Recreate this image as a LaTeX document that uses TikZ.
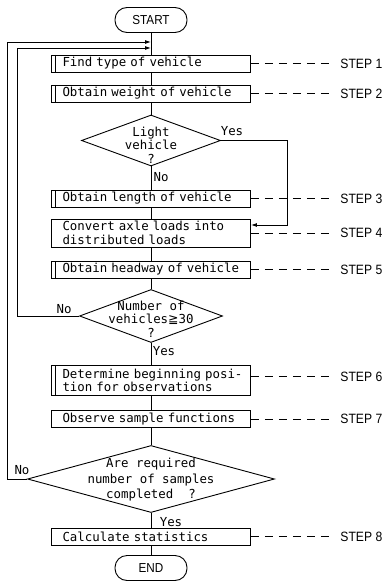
\documentclass[tikz,border=0pt]{standalone}
\usepackage{fontspec}
\setmainfont{Liberation Sans}
\newfontfamily\boxfont{DejaVu Sans Mono}
\newfontfamily\stepfont[FakeStretch=0.9]{Liberation Sans}
\newfontfamily\symfont{DejaVu Sans}
\usetikzlibrary{shapes.geometric,arrows.meta}
\newcommand{\ind}{\hspace*{11pt}}
\begin{document}
\begin{tikzpicture}[x=1pt,y=-1pt,line width=0.9pt,
  proc/.style={draw, minimum width=199pt, text width=199pt, align=left,
    inner xsep=0pt, inner ysep=1pt, minimum height=17pt,
    font=\boxfont\fontsize{12.4}{13.5}\selectfont},
  dbar/.style={proc, path picture={\draw[line width=0.9pt]
    ([xshift=3.5pt]path picture bounding box.north west) --
    ([xshift=3.5pt]path picture bounding box.south west);}},
  term/.style={draw, rounded corners=12pt, minimum width=72pt, minimum height=25pt,
    font=\stepfont\fontsize{13}{13}\selectfont},
  dia/.style={draw, diamond, inner sep=0pt},
  dtext/.style={align=center, inner sep=0pt, font=\boxfont\fontsize{12.4}{13.5}\selectfont},
  lbl/.style={font=\boxfont\fontsize{12.4}{12.4}\selectfont, inner sep=0pt},
  steplbl/.style={font=\stepfont\fontsize{13.5}{13.5}\selectfont, anchor=west, inner sep=0pt},
  stepline/.style={line width=0.8pt, dash pattern=on 8pt off 6pt},
  arr/.style={-{Latex[length=6pt,width=4pt]}}
]
\useasboundingbox (0,0) rectangle (382,583);

% main column
\node[term] (start) at (151,20) {START};
\coordinate (j1) at (151,42);
\coordinate (j2) at (151,48);
\node[dbar] (b1) at (151,63.5) {\ind Find type of vehicle};
\node[dbar] (b2) at (151,93.5) {\ind Obtain weight of vehicle};
\node[dia, minimum width=139pt, minimum height=51pt] (d1) at (151,140.5) {};
\node[dtext] (d1t) at (151,145) {Light\\vehicle\\?};
\node[dbar] (b3) at (151,198.5) {\ind Obtain length of vehicle};
\node[proc, minimum height=28pt] (b4) at (151,233) {\ind Convert axle loads into\\\ind distributed loads};
\node[dbar] (b5) at (151,269.5) {\ind Obtain~headway~of~vehicle};
\node[dia, minimum width=143pt, minimum height=53pt] (d2) at (151,316) {};
\node[dtext] (d2t) at (151,319) {Number of\\vehicles{\symfont ≧}30\\?};
\node[dbar, minimum height=30pt] (b6) at (151,380.5) {\ind Determine~beginning~posi-\\\ind tion for observations};
\node[proc] (b7) at (151,419) {\ind Observe sample functions};
\node[dia, minimum width=247pt, minimum height=67pt] (d3) at (151,479) {};
\node[dtext, font=\boxfont\fontsize{12.4}{15.5}\selectfont] (d3t) at (151,480) {Are required\\number of samples\\completed\ \ ?};
\node[proc] (b8) at (151,536.5) {\ind Calculate statistics};
\node[term] (end) at (151,568) {END};

% spine
\draw (start) -- (b1);
\draw (b1) -- (b2);
\draw (b2) -- (d1);
\draw (d1) -- (b3);
\draw (b3) -- (b4);
\draw (b4) -- (b5);
\draw (b5) -- (d2);
\draw (d2) -- (b6);
\draw (b6) -- (b7);
\draw (b7) -- (d3);
\draw (d3) -- (b8);
\draw (b8) -- (end);

% branches
\draw[arr] (d1.east) -- ++(66,0) |- ([yshift=8pt]b4.east);
\draw[arr] (d2.west) -- ++(-61.5,0) |- (j2);
\draw[arr] (d3.west) -- ++(-19.5,0) |- (j1);

% branch labels
\node[lbl] (y1) at (232,131) {Yes};
\node[lbl] (n1) at (161,177) {No};
\node[lbl] (n2) at (64,309) {No};
\node[lbl] (y2) at (164,351) {Yes};
\node[lbl] (n3) at (22,470) {No};
\node[lbl] (y3) at (171,522) {Yes};

% step labels
\node[steplbl] (s1) at (340,63.5) {STEP 1};
\node[steplbl] (s2) at (340,93.5) {STEP 2};
\node[steplbl] (s3) at (340,198.5) {STEP 3};
\node[steplbl] (s4) at (340,233) {STEP 4};
\node[steplbl] (s5) at (340,269.5) {STEP 5};
\node[steplbl] (s6) at (340,376.5) {STEP 6};
\node[steplbl] (s7) at (340,419) {STEP 7};
\node[steplbl] (s8) at (340,536.5) {STEP 8};
\draw[stepline] (b1.east) -- ([xshift=-7pt]s1.west);
\draw[stepline] (b2.east) -- ([xshift=-7pt]s2.west);
\draw[stepline] (b3.east) -- ([xshift=-7pt]s3.west);
\draw[stepline] (b4.east) -- ([xshift=-7pt]s4.west);
\draw[stepline] (b5.east) -- ([xshift=-7pt]s5.west);
\draw[stepline] (b6.east |- s6.west) -- ([xshift=-7pt]s6.west);
\draw[stepline] (b7.east) -- ([xshift=-7pt]s7.west);
\draw[stepline] (b8.east) -- ([xshift=-7pt]s8.west);
\end{tikzpicture}
\end{document}
